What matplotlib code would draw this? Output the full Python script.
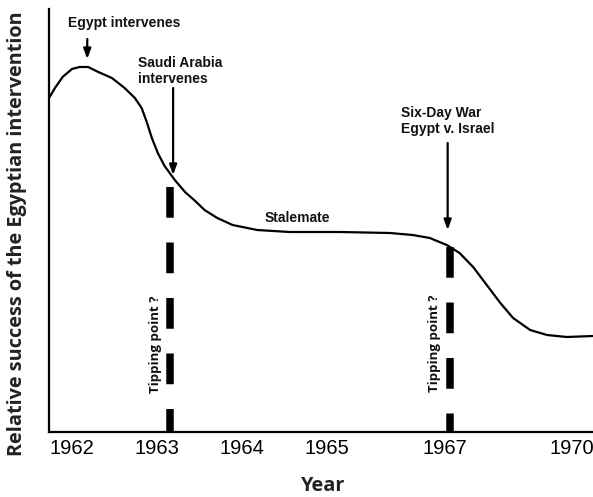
import matplotlib
matplotlib.use("Agg")
import matplotlib.pyplot as plt
from matplotlib import font_manager as fm
import os

def font_file(names, fallback_family, weight="bold"):
    files = fm.findSystemFonts()
    for n in names:
        for f in files:
            if os.path.basename(f).lower() == n.lower():
                return fm.FontProperties(fname=f)
    return fm.FontProperties(family=fallback_family, weight=weight)

# timeline positions (non-linear axis as in the original sketch)
tick_pos = [0.0, 1.0, 2.0, 3.0, 4.39, 5.88]
tick_labels = ["1962", "1963", "1964", "1965", "1967", "1970"]

# curve: relative success of Egyptian intervention
curve_x = [-0.27, -0.20, -0.11, 0.00, 0.09, 0.19, 0.31, 0.47, 0.62, 0.74, 0.82,
           0.88, 0.94, 1.01, 1.09, 1.21, 1.33, 1.45, 1.56, 1.71, 1.89, 2.18,
           2.56, 3.15, 3.74, 4.01, 4.21, 4.41, 4.56, 4.72, 4.88, 5.04, 5.19,
           5.39, 5.59, 5.82, 6.13]
curve_y = [334, 344, 355, 363, 365, 365, 360, 354, 344, 334, 324,
           310, 294, 279, 266, 252, 240, 231, 222, 214, 207, 202,
           200, 200, 199, 197, 194, 187, 179, 165, 147, 129, 114,
           102, 97, 95, 96]

tipping_x = [1.15, 4.45]
tipping_top = [245, 185]

arial_b = font_file(["LiberationSans-Bold.ttf"], "Liberation Sans")
open_b = font_file(["OpenSans-Bold.ttf"], "DejaVu Sans")

fig = plt.figure(figsize=(5.93, 4.97), dpi=100)
ax = fig.add_axes([49/593, (497-432)/497, (593-49)/593, (432-9)/497])

ax.plot(curve_x, curve_y, color="black", lw=1.6, solid_joinstyle="round")

for tx, tt in zip(tipping_x, tipping_top):
    ax.plot([tx, tx], [tt, 0], color="black", lw=5.4, dashes=(4.1, 3.3),
            solid_capstyle="butt", dash_capstyle="butt")

ax.set_xlim(-0.27, 6.13)
ax.set_ylim(0, 423)
ax.set_xticks(tick_pos)
ax.set_xticklabels(tick_labels, fontfamily="Liberation Sans", fontsize=14.5)
ax.set_yticks([])
ax.tick_params(axis="x", length=0, pad=5)
for s in ["top", "right"]:
    ax.spines[s].set_visible(False)
for s in ["left", "bottom"]:
    ax.spines[s].set_linewidth(1.6)

arrow = dict(arrowstyle="-|>,head_length=0.6,head_width=0.22", color="black", lw=1.6,
             shrinkA=0, shrinkB=0)

def ann_text(x, y, s, **kw):
    fp = arial_b.copy()
    fp.set_size(10)
    ax.text(x, y, s, fontproperties=fp, color="#111111", **kw)

ax.annotate("", xy=(0.18, 373), xytext=(0.18, 393), arrowprops=arrow)
ann_text(0.61, 409, "Egypt intervenes", ha="center", va="center")

ax.annotate("", xy=(1.19, 257), xytext=(1.19, 344), arrowprops=arrow)
ann_text(0.78, 376, "Saudi Arabia\nintervenes", ha="left", va="top", linespacing=1.2)

ann_text(2.27, 214, "Stalemate", ha="left", va="center")

ax.annotate("", xy=(4.42, 202), xytext=(4.42, 289), arrowprops=arrow)
ann_text(3.87, 326, "Six-Day War\nEgypt v. Israel", ha="left", va="top", linespacing=1.2)

tp = open_b.copy()
tp.set_size(9.5)
for tx, ty in [(0.98, 88), (4.26, 89)]:
    ax.text(tx, ty, "Tipping point ?", rotation=90, ha="center", va="center",
            fontproperties=tp, color="#111111")

lp = open_b.copy()
lp.set_size(14.3)
fig.text(17/593, 1-234/497, "Relative success of the Egyptian intervention", rotation=90,
         ha="center", va="center", fontproperties=lp, color="#222222")
fig.text(323/593, 1-486/497, "Year", ha="center", va="center",
         fontproperties=lp, color="#222222")

fig.savefig("out.png", dpi=100)
